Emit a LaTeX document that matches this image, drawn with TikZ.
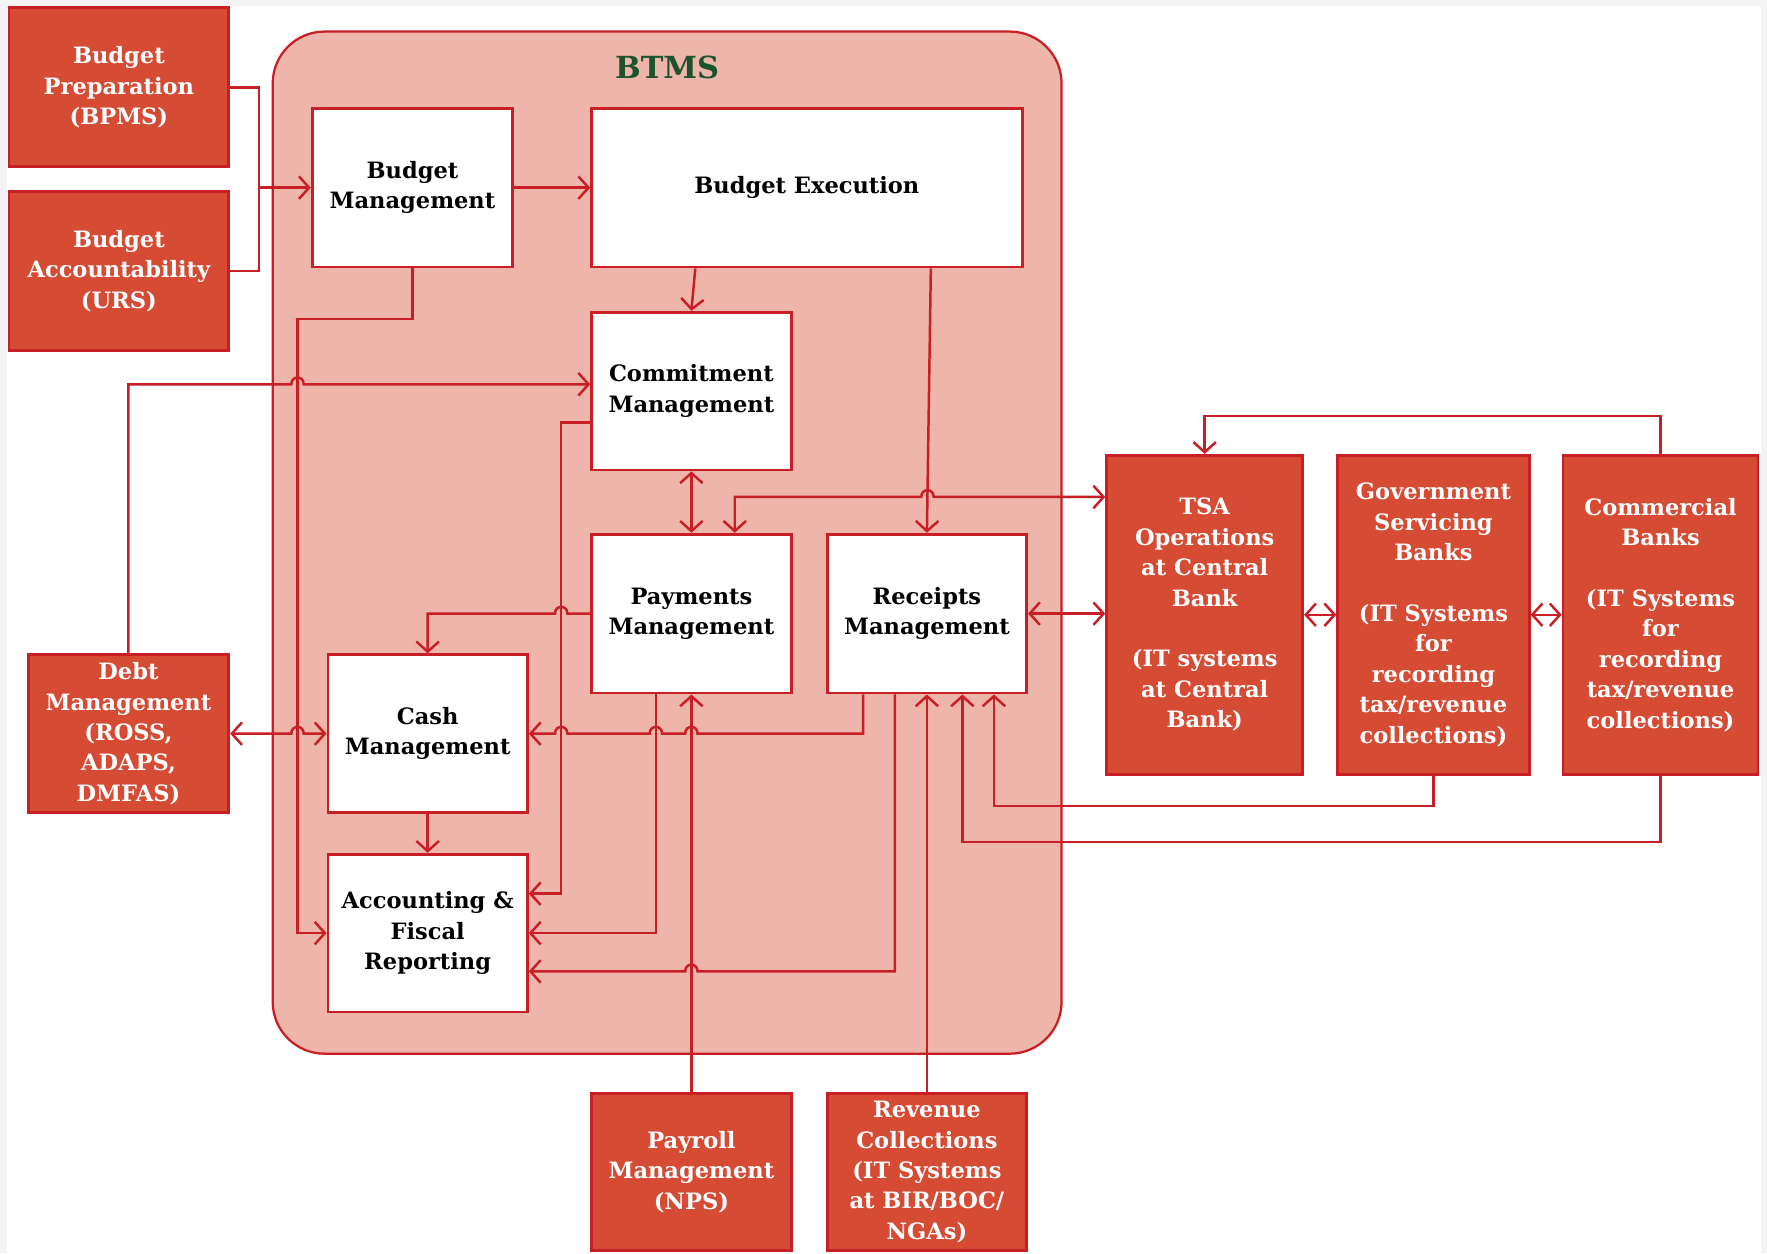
\documentclass[tikz,border=0pt]{standalone}
\usepackage{fontspec}
\setmainfont{DejaVu Serif}
\usetikzlibrary{arrows.meta}
\definecolor{lred}{RGB}{200,30,38}
\definecolor{bred}{RGB}{214,75,52}
\definecolor{cfill}{RGB}{238,181,171}
\definecolor{tgreen}{RGB}{28,82,45}
\definecolor{marg}{RGB}{244,244,244}
\newcommand\hopR[2]{-- ({#1-5.5},#2) .. controls ({#1-5.5},{#2-8}) and ({#1+5.5},{#2-8}) .. ({#1+5.5},#2)}
\newcommand\hopL[2]{-- ({#1+5.5},#2) .. controls ({#1+5.5},{#2-8}) and ({#1-5.5},{#2-8}) .. ({#1-5.5},#2)}
\tikzset{
  conn/.style={draw=lred, line width=2.2pt},
  boxfont/.style={font=\bfseries\fontsize{20}{27}\selectfont},
  wbox/.style={draw=lred, fill=white, line width=2.5pt, align=center, text=black, boxfont, inner sep=0pt},
  rbox/.style={draw=lred, fill=bred, line width=2.5pt, align=center, text=white, boxfont, inner sep=0pt},
  container/.style={draw=lred, fill=cfill, line width=2pt, rounded corners=46pt, inner sep=0pt},
  >={Straight Barb[length=9pt,width=20pt]}
}
\begin{document}
\begin{tikzpicture}[x=1pt,y=-1pt]
% background and margins
\fill[marg] (0,0) rectangle (1568,1112);
\fill[white] (6,5) rectangle (1563,1112);
\useasboundingbox (0,0) rectangle (1568,1112);

% container
\node[container, minimum width=700pt, minimum height=907pt] (BTMSbox) at (592,481.5) {};
\node[text=tgreen, font=\bfseries\fontsize{27}{30}\selectfont] (BTMS) at (592,60) {BTMS};

% boxes
\node[rbox, minimum width=195pt, minimum height=141pt] (BP) at (105.5,77.5) {Budget\\Preparation\\(BPMS)};
\node[rbox, minimum width=195pt, minimum height=141pt] (BA) at (105.5,240.5) {Budget\\Accountability\\(URS)};
\node[wbox, minimum width=178pt, minimum height=141pt] (BM) at (366,166.5) {Budget\\Management};
\node[wbox, minimum width=382pt, minimum height=141pt] (BE) at (716,166.5) {Budget Execution};
\node[wbox, minimum width=177pt, minimum height=140pt] (CM) at (613.5,347) {Commitment\\Management};
\node[wbox, minimum width=177pt, minimum height=141pt] (PM) at (613.5,544.5) {Payments\\Management};
\node[wbox, minimum width=177pt, minimum height=141pt] (RM) at (822.5,544.5) {Receipts\\Management};
\node[wbox, minimum width=177pt, minimum height=140pt] (CashM) at (379.5,651) {Cash\\Management};
\node[wbox, minimum width=177pt, minimum height=140pt] (AFR) at (379.5,828) {Accounting \&\\Fiscal\\Reporting};
\node[rbox, minimum width=178pt, minimum height=140pt] (DM) at (114,651) {Debt\\Management\\(ROSS,\\ADAPS,\\DMFAS)};
\node[rbox, minimum width=174pt, minimum height=283pt] (TSA) at (1069,545.5) {TSA\\Operations\\at Central\\Bank\\[27pt](IT systems\\at Central\\Bank)};
\node[rbox, minimum width=170pt, minimum height=283pt] (GSB) at (1272,545.5) {Government\\Servicing\\Banks\\[27pt](IT Systems\\for\\recording\\tax/revenue\\collections)};
\node[rbox, minimum width=173pt, minimum height=283pt] (CB) at (1473.5,545.5) {Commercial\\Banks\\[27pt](IT Systems\\for\\recording\\tax/revenue\\collections)};
\node[rbox, minimum width=177pt, minimum height=140pt] (PAY) at (613.5,1040) {Payroll\\Management\\(NPS)};
\node[rbox, minimum width=177pt, minimum height=140pt] (RC) at (822.5,1040) {Revenue\\Collections\\(IT Systems\\at BIR/BOC/\\NGAs)};

% connectors
\coordinate (j1) at (230,166.5);
\draw[conn,->] (BP.east) -| (j1) -- (BM.west);
\draw[conn] (BA.east) -| (j1);
\draw[conn,->] (BM.east) -- (BE.west);
\draw[conn,->] (BM.south) |- (264,283) |- (AFR.west);
\draw[conn,->] (DM.north) |- (250,341) \hopR{264}{341} -- ([yshift=6pt]CM.west);
\draw[conn,->] ([xshift=-99pt]BE.south) -- (CM.north);
\draw[conn,->] ([xshift=110pt]BE.south) -- (RM.north);
\draw[conn,<->] (CM.south) -- (PM.north);
\draw[conn,<->] ([xshift=38.5pt]PM.north) |- (800,441) \hopR{823}{441} -- ([yshift=104.5pt]TSA.west);
\draw[conn,->] ([yshift=-28pt]CM.west) -| (498,793) -- ([yshift=35pt]AFR.east);
\draw[conn,->] (PM.west) \hopL{498}{544.5} -| (CashM.north);
\draw[conn,->] ([xshift=-31.5pt]PM.south) |- (AFR.east);
\draw[conn,->] (PAY.north) -- (PM.south);
\draw[conn,->] ([xshift=-56.5pt]RM.south) |- (700,651) \hopL{613.5}{651} \hopL{582}{651} \hopL{498}{651} -- (CashM.east);
\draw[conn,->] ([xshift=-28.5pt]RM.south) |- (700,862) \hopL{613.5}{862} -- ([yshift=-34pt]AFR.east);
\draw[conn,->] (RC.north) -- (RM.south);
\draw[conn,->] (GSB.south) -- (1272,715) -| ([xshift=59.5pt]RM.south);
\draw[conn,->] (CB.south) -- (1473.5,747) -| ([xshift=31.5pt]RM.south);
\draw[conn,<->] (RM.east) -- (RM.east -| TSA.west);
\draw[conn,<->] (TSA.east) -- (GSB.west);
\draw[conn,<->] (GSB.east) -- (CB.west);
\draw[conn,->] (CB.north) -- (1473.5,369) -| (TSA.north);
\draw[conn,<->] (DM.east) \hopR{264}{651} -- (CashM.west);
\draw[conn,->] (CashM.south) -- (AFR.north);
\end{tikzpicture}
\end{document}
